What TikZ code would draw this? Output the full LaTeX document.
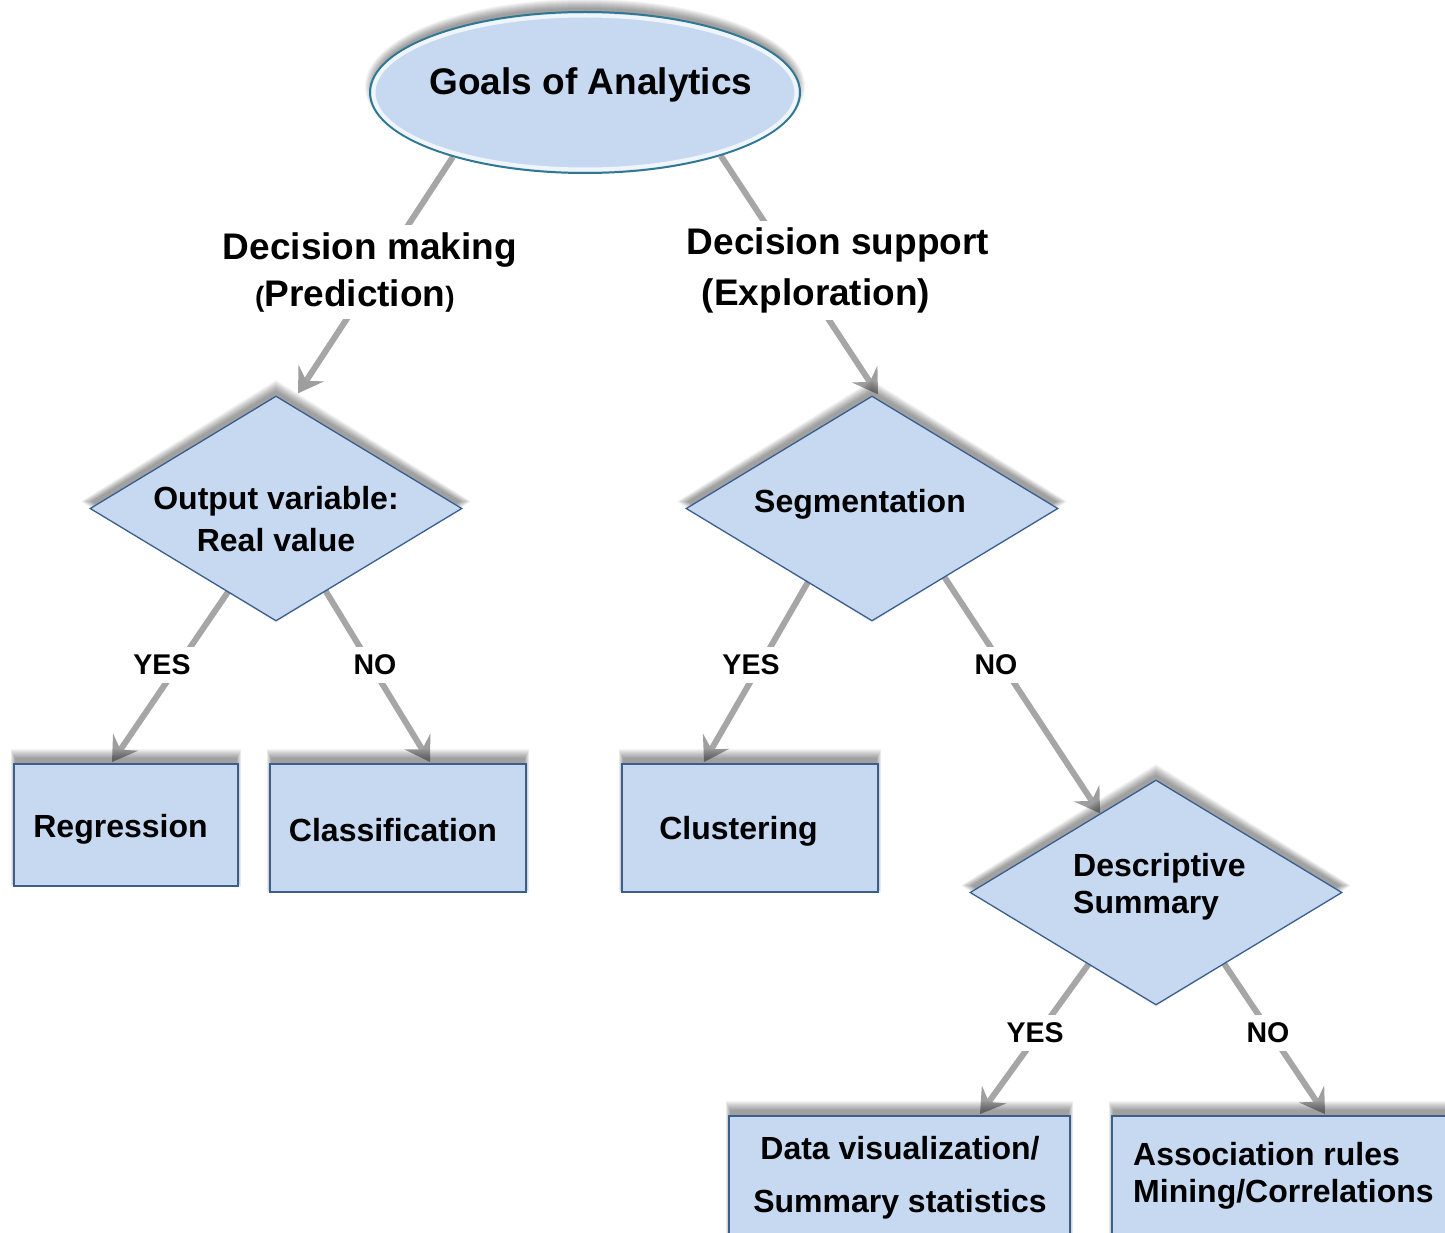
\documentclass[tikz,border=0pt]{standalone}
\usepackage{fontspec}
\setmainfont{Liberation Sans}
\usetikzlibrary{shapes.geometric,arrows.meta,calc,backgrounds}

\definecolor{boxfill}{HTML}{C6D9F1}
\definecolor{boxline}{HTML}{3A5F8E}
\definecolor{ringline}{HTML}{2F7893}
\definecolor{linkgray}{HTML}{A6A6A6}
\definecolor{tipgray}{HTML}{9E9E9E}

\newcommand\fs[2]{\fontsize{#1}{#2}\selectfont}

\begin{document}
\begin{tikzpicture}[x=1pt,y=-1pt,
  goalshape/.style={ellipse,draw=ringline,line width=2pt,fill=boxfill,
      minimum width=430pt,minimum height=161pt,inner sep=0pt},
  test/.style={diamond,draw=boxline,line width=1.3pt,fill=boxfill,
      minimum width=372pt,minimum height=225pt,inner sep=0pt},
  leaf/.style={rectangle,draw=boxline,line width=1.8pt,fill=boxfill,
      inner sep=0pt},
  goaltext/.style={font=\bfseries\fs{37}{44},inner sep=0pt},
  shapetext/.style={font=\bfseries\fs{32}{42},align=center,inner sep=0pt},
  branch/.style={fill=white,font=\bfseries\fs{37}{47},align=center,
      inner xsep=4pt,inner ysep=7pt},
  answer/.style={fill=white,font=\bfseries\fs{28.5}{30},
      inner xsep=4pt,inner ysep=8pt},
  link/.style={draw=linkgray,line width=6pt,
      -{Stealth[length=24pt,width=30pt,inset=9pt,color=tipgray]}},
  halo/.style={fill=black,opacity=0.045}
]
\useasboundingbox (0,0) rectangle (1445,1233);

% root
\node[goalshape] (goal) at (585,92.5) {};
\draw[white,opacity=0.75,line width=4pt] (goal.center) ellipse [x radius=211.5, y radius=77];
\node[goaltext] (goal-t) at (591,85) {Goals of Analytics};

% decisions
\node[test] (d1) at (276,508.5) {};
\node[test] (d2) at (872,508.5) {};
\node[test] (d3) at (1156,892.5) {};
\node[shapetext] (d1-t) at (276,519) {Output variable:\\Real value};
\node[shapetext] (d2-t) at (860,504) {Segmentation};
\node[shapetext,align=left,font=\bfseries\fs{32}{37},anchor=west] (d3-t) at (1073,886.5) {Descriptive\\Summary};

% outcomes
\node[leaf,minimum width=224pt,minimum height=122pt] (reg) at (126,825) {};
\node[leaf,minimum width=256pt,minimum height=128pt] (cls) at (398,828) {};
\node[leaf,minimum width=256pt,minimum height=128pt] (clu) at (750,828) {};
\node[leaf,minimum width=341pt,minimum height=124pt] (viz) at (899.5,1178) {};
\node[leaf,minimum width=348pt,minimum height=124pt] (asc) at (1286,1178) {};
\node[shapetext] (reg-t) at (120.5,829) {Regression};
\node[shapetext] (cls-t) at (393,830) {Classification};
\node[shapetext] (clu-t) at (738.5,831) {Clustering};
\node[shapetext,font=\bfseries\fs{32}{53}] (viz-t) at (900,1177.5) {Data visualization/\\Summary statistics};
\node[shapetext,align=left,font=\bfseries\fs{32}{37},anchor=west] (asc-t) at (1133,1175.5) {Association rules\\Mining/Correlations};

% branch labels
\node[branch] (pred) at (370,272) {Decision making\\\hspace*{-30pt}{\fs{28}{47}(}Prediction{\fs{28}{47})}};
\node[branch,font=\bfseries\fs{37}{51}] (expl) at (838,270.5) {Decision support\\\hspace*{-44pt}(Exploration)};
\node[answer] (a1) at (162,665) {YES};
\node[answer] (a2) at (375,665) {NO};
\node[answer] (a3) at (751,665) {YES};
\node[answer] (a4) at (996,665) {NO};
\node[answer] (a5) at (1035,1033) {YES};
\node[answer] (a6) at (1268,1033) {NO};

\begin{scope}[on background layer]
  \fill[white] (0,0) rectangle (1445,1233);

  % connectors
  \draw[link] (goal.206.7) -- ($(d1.north)+(22,-2)$);
  \draw[link] (goal.335.5) -- ($(d2.north)+(6,-1)$);
  \draw[link] ($(d1.center)+(-42.4,75.2)$) -- ($(reg.north)+(-14,-1)$);
  \draw[link] ($(d1.center)+(43.8,72.9)$) -- ($(cls.north)+(32,-1)$);
  \draw[link] ($(d2.center)+(-59,64.8)$) -- ($(clu.north)+(-46,-1)$);
  \draw[link] ($(d2.center)+(67.5,61.1)$) -- ($(d3.north)+(-56,34)$);
  \draw[link] ($(d3.center)+(-62.2,64.4)$) -- ($(viz.north)+(80.5,-1)$);
  \draw[link] ($(d3.center)+(63.5,64.2)$) -- ($(asc.north)+(39,-1)$);

  % soft upward shadows: stacked translucent copies of each outline
  \foreach \g in {0,...,9}{
    \pgfmathsetmacro\s{\g-2}
    \pgfmathsetmacro\up{-7-\s}
    \pgfmathsetmacro\dn{-7+\s}
    \pgfmathsetmacro\sx{0.5*\s-1}
    \pgfmathsetmacro\nsx{1-0.5*\s}
    \pgfmathsetmacro\dx{1.2*\s}
    \pgfmathsetmacro\ndx{-1.2*\s}
    \pgfmathsetmacro\dtop{-7-1.17*\s}
    \pgfmathsetmacro\dbot{-7+1.17*\s}
    \pgfmathsetmacro\rx{213+\s}
    \pgfmathsetmacro\ry{80.5+\s}
    \fill[halo] ($(goal.center)+(0,-6)$) ellipse [x radius=\rx, y radius=\ry];
    \foreach \d in {d1,d2,d3}{
      \fill[halo] ($(\d.north)+(0,\dtop)$) -- ($(\d.east)+(\dx,-7)$)
        -- ($(\d.south)+(0,\dbot)$) -- ($(\d.west)+(\ndx,-7)$) -- cycle;
    }
    \foreach \b in {reg,cls,clu,viz,asc}{
      \fill[halo] ($(\b.north west)+(\nsx,\up)$) rectangle ($(\b.south east)+(\sx,\dn)$);
    }
  }
\end{scope}
\end{tikzpicture}
\end{document}
